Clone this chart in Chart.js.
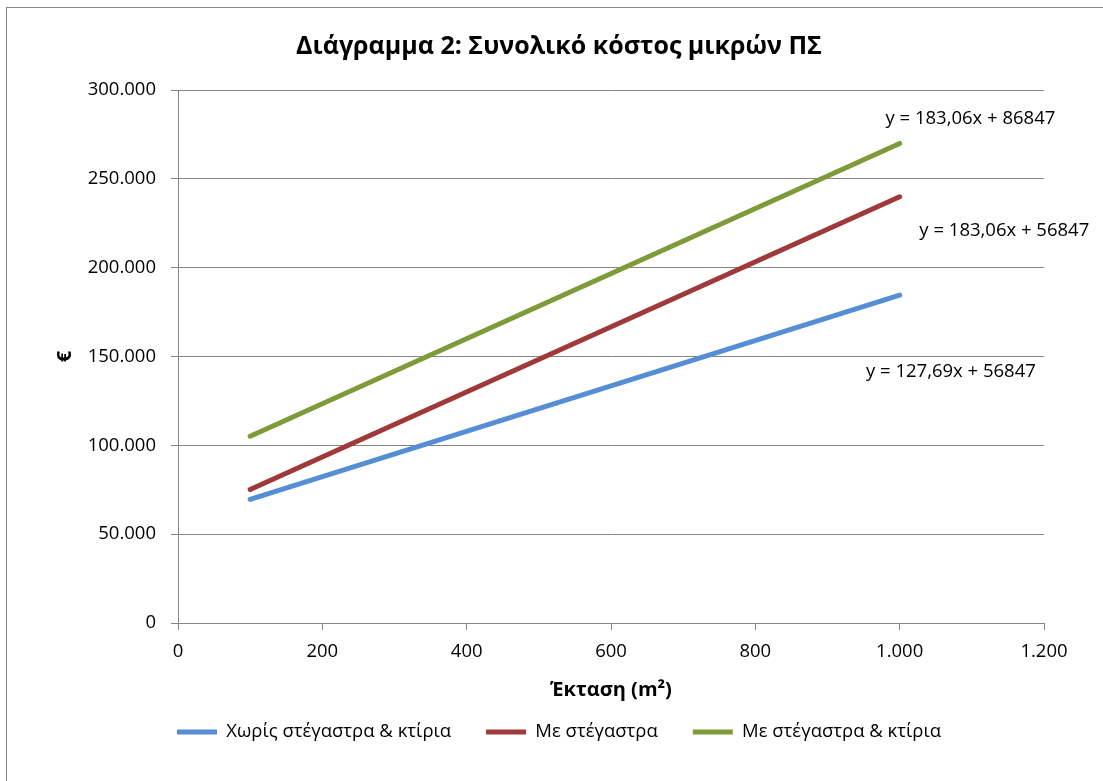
<!DOCTYPE html>
<html>
<head>
<meta charset="utf-8">
<script src="https://cdn.jsdelivr.net/npm/chart.js@4.4.1/dist/chart.umd.min.js"></script>
<style>
  body { margin: 0; background: #fff; }
</style>
</head>
<body>
<canvas id="chart" width="1103" height="781"></canvas>
<script>
// data (line ends at 100 and 1000 m2)
const areas = [100, 1000];
const noShelter = [69616, 184537];
const withShelter = [75153, 239907];
const withShelterBuildings = [105153, 269907];
const seriesNames = ['Χωρίς στέγαστρα & κτίρια', 'Με στέγαστρα', 'Με στέγαστρα & κτίρια'];
const seriesColors = ['#558ED5', '#A0393A', '#7E9B3A'];

// trendline equations and where they sit (in data units)
const trendTexts = ['y = 127,69x + 56847', 'y = 183,06x + 56847', 'y = 183,06x + 86847'];
const trendX = [1071, 1145, 1098];
const trendY = [141500, 220900, 283700];

const FONT = '"Open Sans", "Noto Sans", sans-serif';
const GRID = '#868686';

const fmt = v => String(v).replace(/\B(?=(\d{3})+(?!\d))/g, '.');
const pts = ys => areas.map((a, i) => ({x: a, y: ys[i]}));

const frame = {
  id: 'frame',
  beforeDraw(chart) {
    const ctx = chart.ctx;
    ctx.save();
    ctx.fillStyle = '#fff';
    ctx.fillRect(0, 0, chart.width, chart.height);
    ctx.strokeStyle = '#888';
    ctx.lineWidth = 1;
    ctx.strokeRect(6.5, 7.5, 1200, 1000);
    ctx.restore();
  }
};

const trendLabels = {
  id: 'trendLabels',
  afterDatasetsDraw(chart) {
    const {ctx, scales: {x, y}} = chart;
    ctx.save();
    ctx.font = '18.5px ' + FONT;
    ctx.fillStyle = '#000';
    ctx.textAlign = 'center';
    ctx.textBaseline = 'middle';
    trendTexts.forEach((t, i) => {
      ctx.fillText(t, x.getPixelForValue(trendX[i]), y.getPixelForValue(trendY[i]));
    });
    ctx.restore();
  }
};

const lineSet = (i, ys) => ({
  label: seriesNames[i],
  data: pts(ys),
  borderColor: seriesColors[i],
  backgroundColor: seriesColors[i],
  borderWidth: 5,
  borderCapStyle: 'round',
  pointRadius: 0,
  pointStyle: 'line',
  fill: false
});

new Chart(document.getElementById('chart'), {
  type: 'line',
  data: {
    datasets: [lineSet(0, noShelter), lineSet(1, withShelter), lineSet(2, withShelterBuildings)]
  },
  options: {
    responsive: false,
    animation: false,
    layout: { padding: { left: 74, right: 59, top: 0, bottom: 29.75 } },
    plugins: {
      title: {
        display: true,
        text: 'Διάγραμμα 2: Συνολικό κόστος μικρών ΠΣ',
        color: '#000',
        font: { family: FONT, size: 25, weight: 'bold' },
        padding: { top: 32, bottom: 28 }
      },
      legend: {
        position: 'bottom',
        labels: {
          color: '#000',
          font: { family: FONT, size: 18.5 },
          usePointStyle: true,
          pointStyleWidth: 40,
          padding: 35
        }
      },
      tooltip: { enabled: false }
    },
    scales: {
      x: {
        type: 'linear',
        min: 0,
        max: 1200,
        afterFit: s => { s.height = 64.75; },
        ticks: { stepSize: 200, color: '#000', padding: 11, font: { family: FONT, size: 18.5 }, callback: v => fmt(v) },
        grid: { drawOnChartArea: false, drawTicks: true, tickLength: 7, color: GRID },
        border: { color: GRID },
        title: { display: true, text: 'Έκταση (m²)', color: '#000', font: { family: FONT, size: 20, weight: 'bold' }, padding: { top: 0, bottom: -14.25 } }
      },
      y: {
        min: 0,
        max: 300000,
        afterFit: s => { s.width = 104; },
        ticks: { stepSize: 50000, color: '#000', padding: 15, font: { family: FONT, size: 18.5 }, callback: v => fmt(v) },
        grid: { tickLength: 7, color: GRID },
        border: { color: GRID },
        title: { display: true, text: '€', color: '#000', font: { family: FONT, size: 20, weight: 'bold' }, padding: { top: -20.5, bottom: 0 } }
      }
    }
  },
  plugins: [frame, trendLabels]
});
</script>
</body>
</html>
